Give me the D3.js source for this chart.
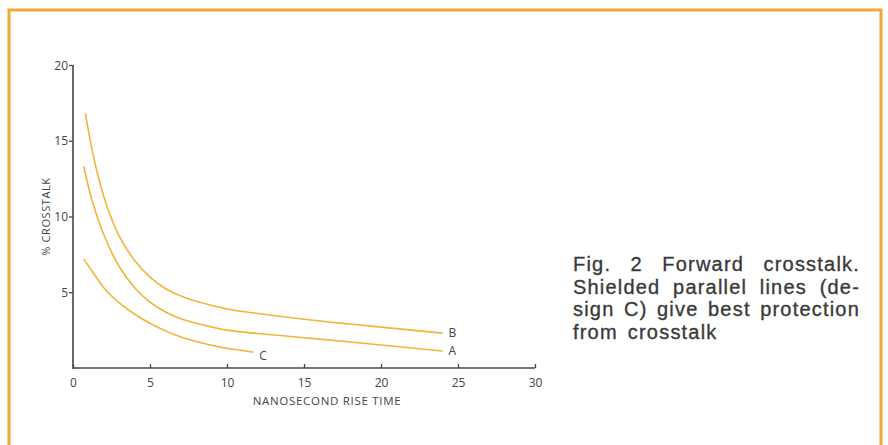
<!DOCTYPE html>
<html>
<head>
<meta charset="utf-8">
<script src="https://cdn.jsdelivr.net/npm/d3@7"></script>
<style>
  html, body { margin: 0; padding: 0; background: #fff; }
  svg { display: block; }
</style>
</head>
<body>
<svg id="chart" width="888" height="445"></svg>
<script>
// Forward crosstalk (%) versus rise time (ns) for three line designs
const xTicks = [0, 5, 10, 15, 20, 25, 30];
const yTicks = [5, 10, 15, 20];

const seriesNames = ["B", "A", "C"];
const riseTimeB = [0.8, 1.2, 1.7, 2.2, 3, 4, 5, 6, 7, 8, 10, 12, 15, 18, 20, 22, 24];
const crosstalkB = [16.8, 14.6, 12.4, 10.7, 8.7, 7.1, 6.0, 5.25, 4.75, 4.4, 3.9, 3.6, 3.22, 2.9, 2.7, 2.5, 2.3];
const riseTimeA = [0.7, 1.2, 2, 3, 4, 5, 6, 7, 8, 10, 12, 15, 18, 20, 22, 24];
const crosstalkA = [13.3, 11.2, 8.8, 6.7, 5.3, 4.35, 3.7, 3.25, 2.95, 2.5, 2.28, 2.0, 1.72, 1.52, 1.32, 1.12];
const riseTimeC = [0.7, 1.3, 2, 2.5, 3, 4, 5, 6, 7, 8, 9, 10, 11.7];
const crosstalkC = [7.2, 6.3, 5.3, 4.75, 4.3, 3.55, 2.95, 2.45, 2.05, 1.75, 1.5, 1.3, 1.05];

const captionLines = [
  "Fig. 2  Forward crosstalk.",
  "Shielded parallel lines (de-",
  "sign C) give best protection",
  "from crosstalk"
];

const svg = d3.select("#chart");
const ink = "#454545";
const curveColor = "#f2b43a";
const axisFont = "'Open Sans', 'DejaVu Sans', sans-serif";

// page frame (open at the bottom)
svg.append("path")
  .attr("d", "M9,445 V10 H881 V445")
  .attr("fill", "none")
  .attr("stroke", "#f4a63a")
  .attr("stroke-width", 3);

const x = d3.scaleLinear().domain([0, 30]).range([73, 535]);
const y = d3.scaleLinear().domain([0, 20]).range([368, 65]);

// axes
const gx = svg.append("g").attr("transform", `translate(0,${y(0)})`)
  .call(d3.axisBottom(x).tickValues(xTicks).tickSizeInner(-4).tickSizeOuter(0).tickPadding(10));
const gy = svg.append("g").attr("transform", `translate(${x(0)},0)`)
  .call(d3.axisLeft(y).tickValues(yTicks).tickSizeInner(4).tickSizeOuter(0).tickPadding(1));

[gx, gy].forEach(g => {
  g.select(".domain").attr("stroke", ink).attr("stroke-width", 1.6);
  g.selectAll(".tick line").attr("stroke", ink).attr("stroke-width", 1.3);
  g.selectAll(".tick text").attr("fill", ink).attr("font-family", axisFont).attr("font-size", 12);
});
gy.select(".domain").attr("d", `M0,${y(20)}V${y(0) + 1}`);
gx.select(".domain").attr("d", `M${x(0)},0H${x(30)}`);
gy.selectAll(".tick text").attr("dy", "0.35em");

svg.append("text")
  .attr("transform", `translate(50,${(y(0) + y(20)) / 2}) rotate(-90)`)
  .attr("text-anchor", "middle")
  .attr("font-family", axisFont).attr("font-size", 11).attr("fill", ink)
  .attr("letter-spacing", 0.6)
  .text("% CROSSTALK");

svg.append("text")
  .attr("x", 327).attr("y", 405)
  .attr("text-anchor", "middle")
  .attr("font-family", axisFont).attr("font-size", 11.5).attr("fill", ink)
  .attr("letter-spacing", 0.7)
  .text("NANOSECOND RISE TIME");

// curves
const series = [
  { name: seriesNames[0], xs: riseTimeB, ys: crosstalkB },
  { name: seriesNames[1], xs: riseTimeA, ys: crosstalkA },
  { name: seriesNames[2], xs: riseTimeC, ys: crosstalkC }
];
const line = d3.line().x(d => x(d[0])).y(d => y(d[1])).curve(d3.curveCatmullRom.alpha(0.5));

series.forEach(s => {
  const pts = s.xs.map((v, i) => [v, s.ys[i]]);
  svg.append("path")
    .datum(pts)
    .attr("d", line)
    .attr("fill", "none")
    .attr("stroke", curveColor)
    .attr("stroke-width", 1.6);
  const last = pts[pts.length - 1];
  const dy = s.name === "C" ? 8 : 4;
  svg.append("text")
    .attr("x", x(last[0]) + 6).attr("y", y(last[1]) + dy)
    .attr("font-family", axisFont).attr("font-size", 12).attr("fill", ink)
    .text(s.name);
});

// caption, justified between left and right edges except the last line
const capLeft = 573, capRight = 860, capTop = 271, capStep = 22.7;
const capFont = "'Liberation Sans', Arial, sans-serif";
captionLines.forEach((ln, i) => {
  const words = ln.split(/\s+/);
  const base = capTop + i * capStep;
  const nodes = words.map(w => svg.append("text")
    .attr("y", base)
    .attr("font-family", capFont).attr("font-size", 20).attr("fill", "#3a3a3a")
    .attr("stroke", "#3a3a3a").attr("stroke-width", 0.35)
    .attr("letter-spacing", 1.2)
    .text(w));
  const widths = nodes.map(n => n.node().getComputedTextLength());
  const total = d3.sum(widths);
  const last = i === captionLines.length - 1;
  const gap = last ? 10 : (capRight - capLeft - total) / (words.length - 1);
  let cx = capLeft;
  nodes.forEach((n, j) => { n.attr("x", cx); cx += widths[j] + gap; });
});
</script>
</body>
</html>
